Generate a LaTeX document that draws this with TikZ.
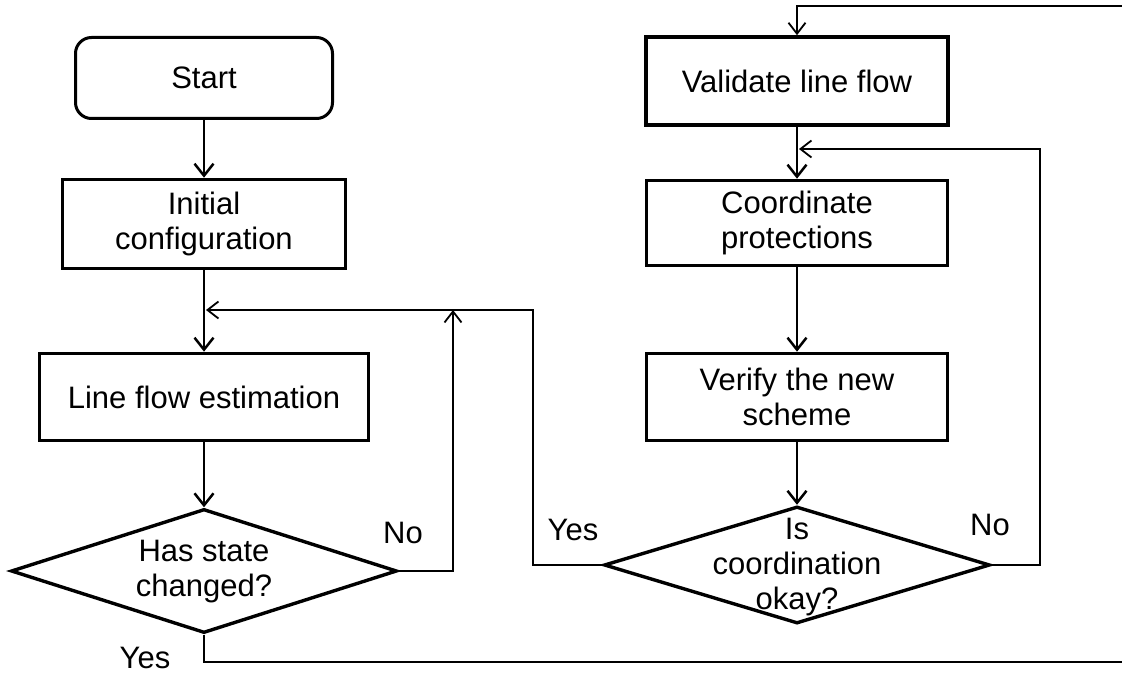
\documentclass[tikz,border=0pt]{standalone}
\usepackage{fontspec}
\setmainfont{Liberation Sans}
\usetikzlibrary{shapes.geometric,arrows.meta}
\newcommand\flowfont{\fontsize{31}{35}\selectfont}
\begin{document}
\begin{tikzpicture}[x=1pt,y=-1pt,
  stepbox/.style={draw, line width=3.6pt, inner sep=0pt, align=center, font=\flowfont},
  startbox/.style={stepbox, line width=3pt, rounded corners=16pt},
  decision/.style={diamond, draw, line width=3.4pt, inner sep=0pt},
  txt/.style={align=center, font=\flowfont, inner sep=0pt},
  flow/.style={line width=2.5pt, -{Straight Barb[length=12pt,width=19pt]}},
  back/.style={line width=1.8pt, -{Straight Barb[length=11pt,width=17pt]}}]
\useasboundingbox (0,0) rectangle (1122,676);
\clip (0,0) rectangle (1122,676);

% left column
\node[startbox, minimum width=257pt, minimum height=81pt] (start) at (204,78) {Start};
\node[stepbox, minimum width=283pt, minimum height=89pt] (init) at (204,224) {Initial\\configuration};
\node[stepbox, minimum width=329pt, minimum height=87pt] (lfe) at (204,397) {Line flow estimation};
\node[decision, minimum width=386pt, minimum height=124pt] (d1) at (204,571) {};
\node[txt] (d1t) at (204,572) {Has state\\changed?};

% right column
\node[stepbox, minimum width=302pt, minimum height=88pt] (valid) at (797,81) {Validate line flow};
\node[stepbox, minimum width=301pt, minimum height=85pt] (coord) at (797,223) {Coordinate\\protections};
\node[stepbox, minimum width=301pt, minimum height=87pt] (verify) at (797,397) {Verify the new\\scheme};
\node[decision, minimum width=386pt, minimum height=117pt] (d2) at (797,565) {};
\node[txt] (d2t) at (797,567) {Is\\coordination\\okay?};

% branch labels
\node[txt] (no1) at (403,533) {No};
\node[txt] (yes1) at (145,658) {Yes};
\node[txt] (yes2) at (573,530) {Yes};
\node[txt] (no2) at (990,525) {No};

% junction points and corners of the return lines
\coordinate (m1) at (206,310);
\coordinate (m2) at (799,149);
\coordinate (up1) at (453,310);
\coordinate (c1) at (533,310);
\coordinate (c2) at (1040,149);
\coordinate (c3) at (1140,662);
\coordinate (c4) at (797,6);

% main flow
\draw[flow] (start) -- (init);
\draw[flow] (init) -- (lfe);
\draw[flow] (lfe) -- (d1);
\draw[flow] (valid) -- (coord);
\draw[flow] (coord) -- (verify);
\draw[flow] (verify) -- (d2);

% return lines
\draw[back] (d1.east) -| (up1);
\draw[back] (d2.west) -| (c1) -- (m1);
\draw[back] (d2.east) -| (c2) -- (m2);
\draw[back] (d1.south) |- (c3) |- (c4) -- (valid.north);
\end{tikzpicture}
\end{document}
